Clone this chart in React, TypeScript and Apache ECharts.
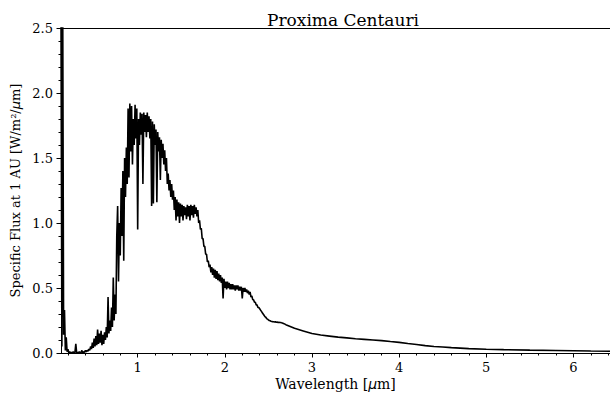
import React, { useEffect, useRef } from "react";
import * as echarts from "echarts";

// Flux sampled every 0.01 µm, starting at the given wavelength
const uvStart = 0.12;
const fluxUV = [
  2.6, 0.05, 2.6, 0.14, 0.33, 0.02, 0.12, 0.01, 0.03, 0.0,
  0.01, 0.0, 0.005, 0.0, 0.01, 0.0, 0.005, 0.07, 0.0, 0.005,
  0.0, 0.01, 0.0, 0.005, 0.02, 0.0, 0.01, 0.005, 0.02, 0.01,
  0.02, 0.015, 0.03, 0.02, 0.05, 0.03, 0.08, 0.04, 0.11, 0.05,
  0.13, 0.06, 0.18, 0.07, 0.15, 0.08, 0.17, 0.06, 0.14, 0.07,
  0.16, 0.1, 0.2, 0.12, 0.43, 0.15, 0.25, 0.17, 0.35, 0.2,
  0.58, 0.25, 0.45,
];

const optStart = 0.75;
const fluxOpt = [
  0.3, 0.9, 1.13, 0.55, 1.0, 0.75, 1.27, 0.9, 1.4, 0.71,
  1.5, 1.2, 1.58, 1.3, 1.88, 1.35, 1.92, 1.55, 1.9, 1.45,
  1.8, 1.6, 1.91, 1.65, 1.88, 0.95, 1.8, 1.6, 1.85, 1.68,
  1.84, 1.3, 1.85, 1.7, 1.83, 1.66, 1.85, 1.7, 1.82, 1.65,
  1.8, 1.13, 1.78, 1.15, 1.76, 1.6, 1.72, 1.16, 1.7, 1.55,
  1.66, 1.33, 1.64, 1.5, 1.61, 1.45, 1.56, 1.4, 1.5, 1.3,
  1.38, 1.25, 1.33, 1.2, 1.3, 1.18, 1.25, 1.1, 1.2, 1.02,
  1.18, 1.05, 1.16, 1.0, 1.15,
];

const nirStart = 1.5;
const fluxNIR = [
  1.05, 1.14, 1.02, 1.13, 1.06, 1.12, 1.03, 1.14, 1.05, 1.13,
  1.02, 1.14, 1.06, 1.13, 1.04, 1.14, 1.07, 1.12, 1.05, 1.1,
  1.0, 1.02, 0.95, 0.96, 0.88, 0.88, 0.82, 0.82, 0.76, 0.76,
  0.7, 0.71, 0.66, 0.68, 0.62, 0.66, 0.6, 0.65, 0.58, 0.64,
  0.57, 0.63, 0.56, 0.61, 0.55, 0.6, 0.54, 0.58, 0.42, 0.57,
  0.5, 0.55, 0.49, 0.55, 0.5, 0.54, 0.49, 0.53, 0.49, 0.53,
  0.49, 0.52, 0.48, 0.52, 0.49, 0.52, 0.48, 0.51, 0.48, 0.51,
  0.42, 0.5, 0.47, 0.5, 0.47, 0.49, 0.46, 0.48, 0.45, 0.47,
  0.43, 0.44, 0.41, 0.41, 0.39, 0.39, 0.37, 0.37, 0.35, 0.35,
  0.34, 0.33, 0.32, 0.31, 0.3, 0.29, 0.28, 0.275, 0.265, 0.26,
  0.255, 0.25, 0.248, 0.245, 0.243, 0.24, 0.24, 0.238, 0.24, 0.236,
  0.238, 0.235, 0.236, 0.234, 0.235, 0.232, 0.23, 0.228, 0.225, 0.222,
  0.218,
];

const tailWave = [2.8, 2.9, 3.0, 3.1, 3.2, 3.3, 3.4, 3.5, 3.6, 3.7, 3.8, 3.9, 4.0, 4.1, 4.2, 4.3, 4.4, 4.5, 4.6, 4.8, 5.0, 5.2, 5.5, 5.8, 6.0, 6.2, 6.42];
const tailFlux = [0.19, 0.17, 0.15, 0.138, 0.13, 0.122, 0.116, 0.11, 0.105, 0.1, 0.095, 0.088, 0.082, 0.073, 0.065, 0.057, 0.05, 0.046, 0.041, 0.034, 0.029, 0.026, 0.022, 0.019, 0.017, 0.015, 0.014];

const xMajorTicks = [1, 2, 3, 4, 5, 6];
const xMinorTicks = [0.2, 0.4, 0.6, 0.8, 1.2, 1.4, 1.6, 1.8, 2.2, 2.4, 2.6, 2.8, 3.2, 3.4, 3.6, 3.8, 4.2, 4.4, 4.6, 4.8, 5.2, 5.4, 5.6, 5.8, 6.2, 6.4];

const xMin = 0.12;
const xMax = 6.42;

function seg(start: number, vals: number[]) {
  return vals.map((f, i) => [Math.round((start + i * 0.01) * 1000) / 1000, f]);
}

const FONT = "DejaVu Serif";
const ITALIC = "DejaVu Sans";

const serif = (size: number) => ({ fontFamily: FONT, fontSize: size, fontWeight: "normal", color: "#000" });

export default function App() {
  const ref = useRef<HTMLDivElement>(null);
  useEffect(() => {
    if (!ref.current) return;
    const chart = echarts.init(ref.current, undefined, { renderer: "svg" });
    const data = [
      ...seg(uvStart, fluxUV),
      ...seg(optStart, fluxOpt),
      ...seg(nirStart, fluxNIR),
      ...tailWave.map((w, i) => [w, tailFlux[i]]),
    ];
    const axisLine = { show: true, lineStyle: { color: "#000", width: 1 } };
    chart.setOption({
      animation: false,
      backgroundColor: "#fff",
      textStyle: { fontFamily: FONT },
      title: {
        text: "Proxima Centauri",
        left: 338,
        textAlign: "center",
        top: 6,
        textStyle: serif(17),
      },
      grid: { left: 61, right: 0, top: 28, bottom: 40, outerBoundsMode: "none", containLabel: false },
      xAxis: [
        {
          type: "value",
          position: "bottom",
          min: xMin,
          max: xMax,
          axisLine,
          splitLine: { show: false },
          axisTick: { show: true, inside: false, length: 4.5, customValues: xMajorTicks, lineStyle: { color: "#000" } },
          axisLabel: {
            customValues: xMajorTicks,
            margin: 8,
            ...serif(13),
          },
          name: "{s|Wavelength [}{i|μ}{s|m]}",
          nameLocation: "middle",
          nameGap: 24,
          nameMoveOverlap: false,
          nameTextStyle: {
            ...serif(14),
            rich: {
              s: serif(14),
              i: { fontFamily: ITALIC, fontStyle: "italic", fontWeight: "normal", fontSize: 14, color: "#000" },
            },
          },
        },
        {
          type: "value",
          position: "bottom",
          min: xMin,
          max: xMax,
          axisLine: { show: false },
          splitLine: { show: false },
          axisTick: { show: true, inside: false, length: 2.5, customValues: xMinorTicks, lineStyle: { color: "#000" } },
          axisLabel: { show: false },
        },
        {
          type: "value",
          position: "top",
          min: xMin,
          max: xMax,
          axisLine,
          splitLine: { show: false },
          axisTick: { show: false },
          axisLabel: { show: false },
        },
      ],
      yAxis: {
        type: "value",
        min: 0,
        max: 2.5,
        interval: 0.5,
        axisLine,
        splitLine: { show: false },
        axisTick: { show: true, inside: false, length: 4.5, lineStyle: { color: "#000" } },
        minorTick: { show: true, splitNumber: 5, length: 2.5, lineStyle: { color: "#000" } },
        axisLabel: {
          formatter: (v: number) => v.toFixed(1),
          margin: 8,
          ...serif(13),
        },
        name: "{s|Specific Flux at 1 AU [W/m²/}{i|μ}{s|m]}",
        nameLocation: "middle",
        nameGap: 39,
        nameMoveOverlap: false,
        nameTextStyle: {
          ...serif(13),
          rich: {
            s: serif(13),
            i: { fontFamily: ITALIC, fontStyle: "italic", fontWeight: "normal", fontSize: 13, color: "#000" },
          },
        },
      },
      series: [
        {
          type: "line",
          xAxisIndex: 0,
          data,
          showSymbol: false,
          symbol: "none",
          lineStyle: { color: "#000", width: 1.6 },
          clip: true,
          z: 1,
        },
      ],
    });
    return () => chart.dispose();
  }, []);
  return (
    <div
      ref={ref}
      style={{ position: "absolute", left: 0, top: 0, width: 610, height: 393, background: "#fff" }}
    />
  );
}
